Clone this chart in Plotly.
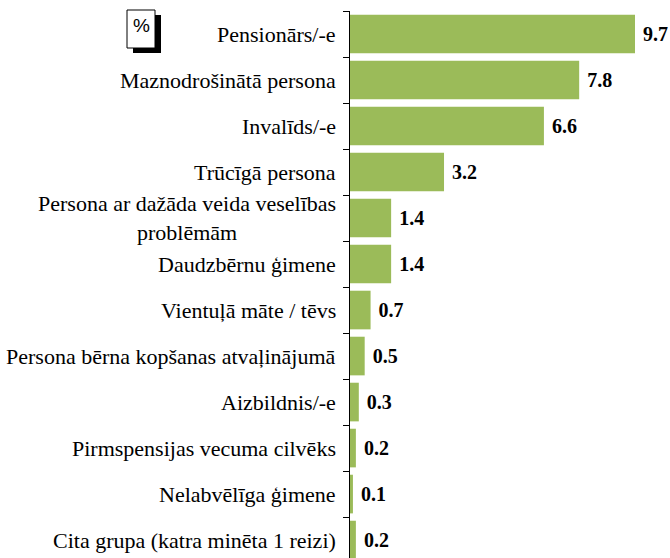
import plotly.graph_objects as go

categories = [
    "Pensionārs/-e",
    "Maznodrošinātā persona",
    "Invalīds/-e",
    "Trūcīgā persona",
    "Persona ar dažāda veida veselības<br>problēmām",
    "Daudzbērnu ģimene",
    "Vientuļā māte / tēvs",
    "Persona bērna kopšanas atvaļinājumā",
    "Aizbildnis/-e",
    "Pirmspensijas vecuma cilvēks",
    "Nelabvēlīga ģimene",
    "Cita grupa (katra minēta 1 reizi)",
]
values = [9.7, 7.8, 6.6, 3.2, 1.4, 1.4, 0.7, 0.5, 0.3, 0.2, 0.1, 0.2]

SERIF = "Times New Roman, Liberation Serif, serif"
ids = list(range(len(categories)))

fig = go.Figure()
fig.add_trace(go.Bar(
    x=values,
    y=ids,
    orientation="h",
    marker=dict(color="#9BBB59", line=dict(width=0)),
    width=0.84,
    text=[f" {v:.1f}" for v in values],
    textposition="outside",
    textfont=dict(family=SERIF, size=20, color="black", weight="bold"),
    cliponaxis=False,
    showlegend=False,
))

# category labels as annotations so the two-line label is centred
for i, label in zip(ids, categories):
    fig.add_annotation(
        x=0, xref="paper", y=i, yref="y",
        text=label, showarrow=False,
        xanchor="right", yanchor="middle", align="center",
        xshift=-12,
        font=dict(family=SERIF, size=22, color="black"),
    )

# plot area in page pixels
L, T = 350, 11
W, H = 285, 547


def px(xp):
    return (xp - L) / W


def py(yp):
    return 1 - (yp - T) / H


# "%" badge with shadow
fig.add_shape(type="rect", xref="paper", yref="paper",
              x0=px(133), x1=px(161), y0=py(53), y1=py(15),
              fillcolor="black", line=dict(width=0))
fig.add_shape(type="rect", xref="paper", yref="paper",
              x0=px(127), x1=px(155), y0=py(48), y1=py(10),
              fillcolor="white", line=dict(color="black", width=1))
fig.add_annotation(x=px(141), y=py(26), xref="paper", yref="paper",
                   text="%", showarrow=False, xanchor="center", yanchor="middle",
                   font=dict(family="Liberation Sans", size=19, color="black"))

fig.update_layout(
    width=670, height=558,
    margin=dict(l=L, r=670 - L - W, t=T, b=0),
    plot_bgcolor="white", paper_bgcolor="white",
    font=dict(family=SERIF),
    xaxis=dict(range=[0, 9.7], visible=False, fixedrange=True),
    yaxis=dict(
        range=[11.39, -0.5],
        tickmode="array", tickvals=[i + 0.5 for i in [-1] + ids], ticktext=[""] * 13,
        ticks="outside", ticklen=6, tickcolor="black", tickwidth=1,
        showline=True, linecolor="black", linewidth=1,
        showgrid=False, zeroline=False, fixedrange=True,
    ),
)

# drop the default 8px page margin so the figure fills the window exactly
fig.write_html(
    "out.html",
    config={"displayModeBar": False},
    post_script="document.body.style.margin='0';document.body.style.overflow='hidden';",
)
